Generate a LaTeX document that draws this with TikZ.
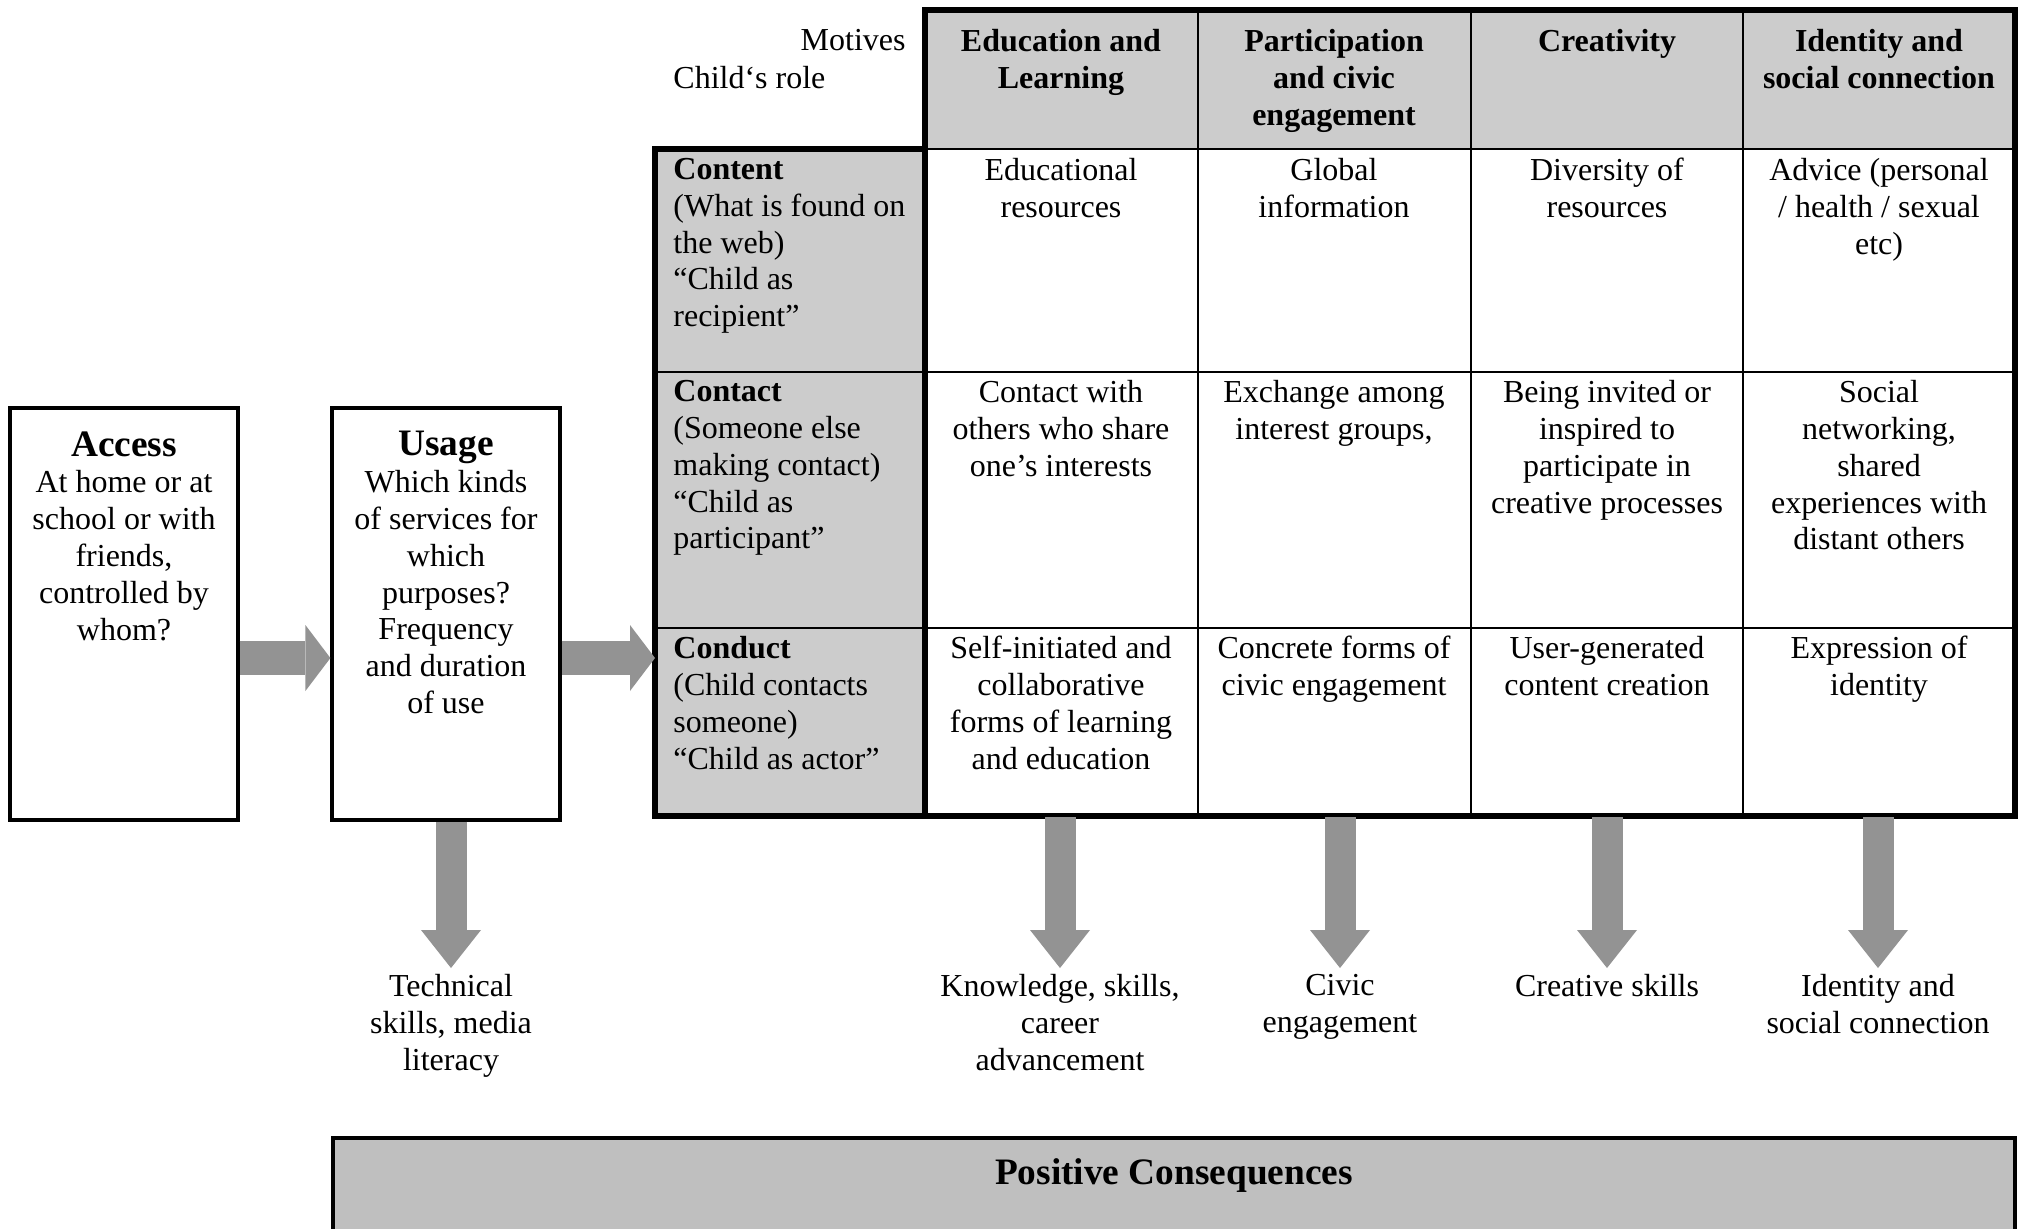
\documentclass[tikz,border=0pt]{standalone}
\usepackage{fontspec}
\setmainfont{Liberation Serif}
\usetikzlibrary{arrows.meta}
\definecolor{cellgray}{RGB}{204,204,204}
\definecolor{posgray}{RGB}{191,191,191}
\definecolor{arrowgray}{RGB}{147,147,147}
\newcommand{\txtsize}{\fontsize{16}{18.4}\selectfont}
\newcommand{\bigbold}{\fontsize{18.67}{22}\selectfont\bfseries}

\begin{document}
\begin{tikzpicture}[x=0.5pt,y=-0.5pt,
    txt/.style={font=\txtsize,inner sep=0pt,align=center,anchor=north},
    rolehead/.style={font=\txtsize,inner sep=0pt,align=left,anchor=north west},
    motive/.style={txt,font=\txtsize\bfseries},
    outcome/.style={txt,inner sep=3pt},
    frame/.style={draw,line width=1.6pt,minimum width=114pt,minimum height=206pt},
    thickline/.style={line width=2.6pt},
    thinline/.style={line width=1.4pt},
    fatarrow/.style={arrowgray,line width=17pt,-{Triangle[width=33pt,length=12.5pt,line width=0pt]}},
    downarrow/.style={arrowgray,line width=15.5pt,-{Triangle[width=30pt,length=19pt,line width=0pt]}}]
\useasboundingbox (0,0) rectangle (2018,1228);

% Access / Usage
\node[frame] (access) at (124,614) {};
\node[txt] (accesstxt) at (124,431) {{\bigbold Access}\\At home or at\\school or with\\friends,\\controlled by\\whom?};
\node[frame] (usage) at (446,614) {};
\node[txt] (usagetxt) at (446,431) {{\bigbold Usage}\\Which kinds\\of services for\\which\\purposes?\\Frequency\\and duration\\of use};

% Tableau
\fill[cellgray] (925,10) rectangle (2015,149);
\fill[cellgray] (655,149) rectangle (925,816);
\foreach \cx in {1198,1471,1743}
  \draw[thinline] (\cx,10) -- (\cx,816);
\foreach \ry in {372,628}
  \draw[thinline] (655,\ry) -- (2015,\ry);
\draw[thinline] (925,149) -- (2015,149);
\draw[thickline] (925,149) -- (925,10) -- (2015,10) -- (2015,816) -- (655,816) -- (655,149) -- cycle;
\draw[thickline] (925,10) -- (925,816);

\node[rolehead,anchor=north east] (motives) at (906,29) {Motives};
\node[rolehead] (childrole) at (673,66) {Child‘s role};
\node[motive] (edu) at (1061,29) {Education and\\Learning};
\node[motive] (part) at (1334,29) {Participation\\and civic\\engagement};
\node[motive] (crea) at (1607,29) {Creativity};
\node[motive] (ident) at (1879,29) {Identity and\\social connection};

\node[rolehead] (content) at (673,158) {\textbf{Content}\\(What is found on\\the web)\\“Child as\\recipient”};
\node[rolehead] (contact) at (673,380) {\textbf{Contact}\\(Someone else\\making contact)\\“Child as\\participant”};
\node[rolehead] (conduct) at (673,636) {\textbf{Conduct}\\(Child contacts\\someone)\\“Child as actor”};

\node[txt] (edures) at (1061,158) {Educational\\resources};
\node[txt] (globinfo) at (1334,158) {Global\\information};
\node[txt] (diverse) at (1607,158) {Diversity of\\resources};
\node[txt] (advice) at (1879,158) {Advice (personal\\/ health / sexual\\etc)};

\node[txt] (shareint) at (1061,380) {Contact with\\others who share\\one’s interests};
\node[txt] (exchange) at (1334,380) {Exchange among\\interest groups,};
\node[txt] (invited) at (1607,380) {Being invited or\\inspired to\\participate in\\creative processes};
\node[txt] (network) at (1879,380) {Social\\networking,\\shared\\experiences with\\distant others};

\node[txt] (selfinit) at (1061,636) {Self-initiated and\\collaborative\\forms of learning\\and education};
\node[txt] (concrete) at (1334,636) {Concrete forms of\\civic engagement};
\node[txt] (usergen) at (1607,636) {User-generated\\content creation};
\node[txt] (express) at (1879,636) {Expression of\\identity};

% Effets
\node[outcome] (tech) at (451,968) {Technical\\skills, media\\literacy};
\node[outcome] (know) at (1060,968) {Knowledge, skills,\\career\\advancement};
\node[outcome] (civic) at (1340,968) {Civic\\engagement};
\node[outcome] (creskill) at (1607,968) {Creative skills};
\node[outcome] (idsoc) at (1878,968) {Identity and\\social connection};

\node[draw,line width=2pt,fill=posgray,anchor=north west,minimum width=841pt,
      text height=12.6pt,text depth=60pt,inner ysep=10.5pt,font=\bigbold] (positive) at (331,1136) {Positive Consequences};

% Flèches
\coordinate (arrowrow) at (0,658);
\coordinate (tleft) at (655,658);
\coordinate (tbot) at (0,817);
\draw[fatarrow] (access.east |- arrowrow) -- (usage.west |- arrowrow);
\draw[fatarrow] (usage.east |- arrowrow) -- (tleft);
\draw[downarrow] (tech.north |- usage.south) -- (tech.north);
\foreach \lab in {know,civic,creskill,idsoc}
  \draw[downarrow] (\lab.north |- tbot) -- (\lab.north);
\end{tikzpicture}
\end{document}
